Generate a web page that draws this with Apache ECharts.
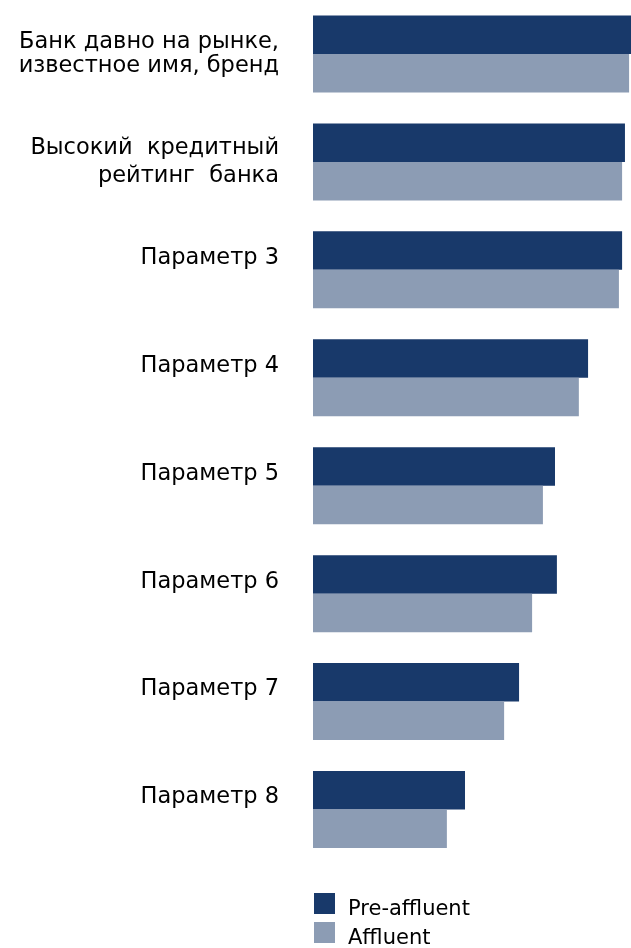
<!DOCTYPE html>
<html>
<head>
<meta charset="utf-8">
<script src="https://cdn.jsdelivr.net/npm/echarts@6/dist/echarts.min.js"></script>
<style>
  html, body { margin: 0; padding: 0; background: #fff; }
  #chart { width: 631px; height: 948px; }
</style>
</head>
<body>
<div id="chart"></div>
<script>
// Bank selection criteria, share of respondents (%), by segment
const categories = [
  'Банк давно на рынке,\nизвестное имя, бренд',
  'Высокий  кредитный\nрейтинг  банка',
  'Параметр 3',
  'Параметр 4',
  'Параметр 5',
  'Параметр 6',
  'Параметр 7',
  'Параметр 8'
];
const preAffluent = [100, 98.1, 97.2, 86.5, 76.1, 76.7, 64.8, 47.8];
const affluent    = [99.4, 97.2, 96.2, 83.6, 72.3, 68.9, 60.1, 42.1];
const seriesNames = ['Pre-affluent', 'Affluent'];

const FONT = 'DejaVu Sans';
const chart = echarts.init(document.getElementById('chart'), null, { renderer: 'canvas' });

// one legend block per series, stacked under the bars;
// the leading empty line drops the label slightly below the swatch centre
const legendBase = {
  orient: 'vertical',
  left: 314,
  padding: 0,
  itemWidth: 21, itemHeight: 21,
  icon: 'rect',
  formatter: name => '\n' + name,
  textStyle: { fontFamily: FONT, fontSize: 21, lineHeight: 12, color: '#000', padding: [0, 0, 0, 8] }
};

chart.setOption({
  animation: false,
  backgroundColor: '#ffffff',
  grid: { left: 313, right: 0, top: -2.5, height: 866, containLabel: false },
  xAxis: {
    type: 'value', min: 0, max: 100,
    show: false
  },
  yAxis: {
    type: 'category',
    inverse: true,
    data: categories.map((c, i) => i === 1
      ? { value: c, textStyle: { lineHeight: 28 } }
      : c),
    axisLine: { show: false },
    axisTick: { show: false },
    splitLine: { show: false },
    axisLabel: {
      margin: 34,
      fontFamily: FONT,
      fontSize: 22.5,
      color: '#000',
      lineHeight: 24,
      align: 'right',
      // single-line labels keep an empty second line, as in the source layout
      formatter: v => v.indexOf('\n') >= 0 ? v : v + '\n '
    }
  },
  legend: [
    Object.assign({}, legendBase, { top: 887, data: [seriesNames[0]] }),
    Object.assign({}, legendBase, { top: 916, data: [seriesNames[1]] })
  ],
  series: [
    {
      name: seriesNames[0], type: 'bar',
      data: preAffluent,
      barWidth: 38.5, barGap: '0%',
      itemStyle: { color: '#18396A' }
    },
    {
      name: seriesNames[1], type: 'bar',
      data: affluent,
      barWidth: 38.5, barGap: '0%',
      itemStyle: { color: '#8C9CB4' }
    }
  ]
});
</script>
</body>
</html>
